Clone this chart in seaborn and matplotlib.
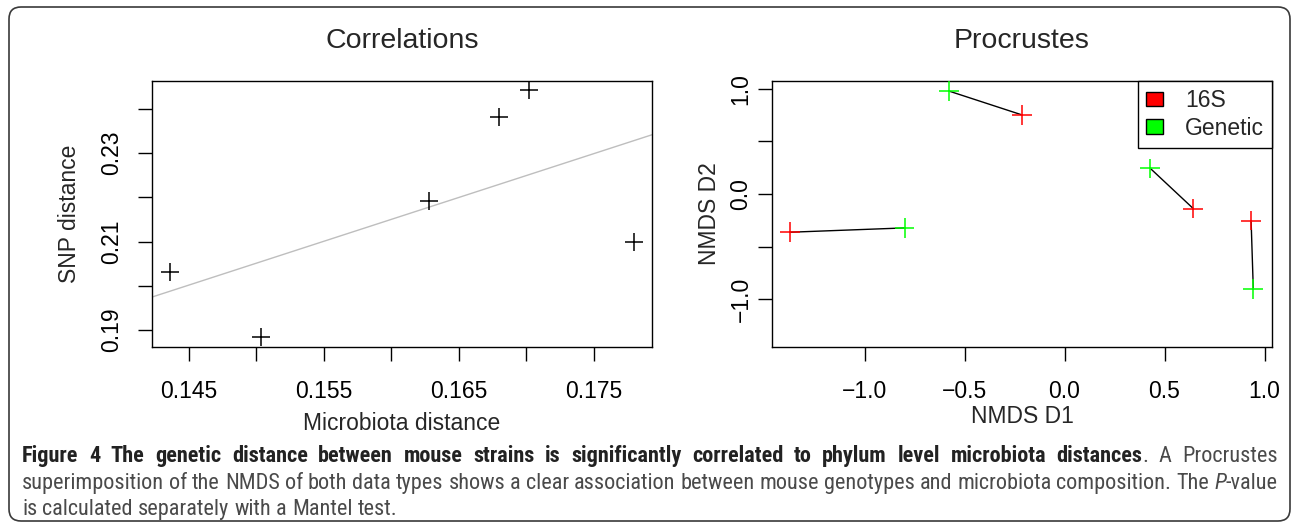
import numpy as np
import pandas as pd
import matplotlib
matplotlib.use("Agg")
import matplotlib.pyplot as plt
import seaborn as sns
from matplotlib import font_manager
from matplotlib.patches import Patch, FancyBboxPatch
from matplotlib.transforms import IdentityTransform

# Left panel: microbiota vs SNP distance
micro_dist = [0.1436, 0.1503, 0.1628, 0.1680, 0.1702, 0.1780]
snp_dist = [0.2032, 0.1883, 0.2192, 0.2382, 0.2442, 0.2099]

# Right panel: Procrustes NMDS coordinates (paired by strain)
d1_16s = [-1.371, -0.2125, 0.644, 0.933]
d2_16s = [-0.364, 0.753, -0.139, -0.253]
d1_gen = [-0.800, -0.579, 0.429, 0.944]
d2_gen = [-0.323, 0.981, 0.244, -0.905]

groups = ["16S", "Genetic"]
group_colors = ["#FF0000", "#00FF00"]

left_xticks = [0.145, 0.150, 0.155, 0.160, 0.165, 0.170, 0.175]
left_xlabels = ["0.145", "", "0.155", "", "0.165", "", "0.175"]
left_yticks = [0.19, 0.20, 0.21, 0.22, 0.23, 0.24]
left_ylabels = ["0.19", "", "0.21", "", "0.23", ""]
right_xticks = [-1.0, -0.5, 0.0, 0.5, 1.0]
right_xlabels = ["\u22121.0", "\u22120.5", "0.0", "0.5", "1.0"]
right_yticks = [-1.0, -0.5, 0.0, 0.5, 1.0]
right_ylabels = ["\u22121.0", "", "0.0", "", "1.0"]

caption_lines = [
    [[("Figure", "b")], [("4", "b")], [("The", "b")], [("genetic", "b")], [("distance", "b")],
     [("between", "b")], [("mouse", "b")], [("strains", "b")], [("is", "b")],
     [("significantly", "b")], [("correlated", "b")], [("to", "b")], [("phylum", "b")],
     [("level", "b")], [("microbiota", "b")], [("distances", "b"), (".", "n")],
     [("A", "n")], [("Procrustes", "n")]],
    [[(w, "n")] for w in "superimposition of the NMDS of both data types shows a clear association "
     "between mouse genotypes and microbiota composition. The".split()] + [[("P", "i"), ("-value", "n")]],
    [[(w, "n")] for w in "is calculated separately with a Mantel test.".split()],
]

sns.set_style("white")
plt.rcParams["font.family"] = ["Liberation Sans", "DejaVu Sans"]

W, H = 1293, 528
fig = plt.figure(figsize=(W / 100, H / 100), dpi=100)
fig.patch.set_facecolor("white")


def px_axes(x0, x1, y0, y1):
    # pixel box (top-left origin) -> figure axes
    return fig.add_axes([x0 / W, (H - y1) / H, (x1 - x0) / W, (y1 - y0) / H])


def style_axes(ax):
    for sp in ax.spines.values():
        sp.set_visible(True)
        sp.set_color("black")
        sp.set_linewidth(1.0)
    ax.tick_params(direction="out", length=10, width=1, colors="black",
                   labelsize=16.5, left=True, bottom=True)


# ---- Correlations ----
ax1 = px_axes(152, 652, 81, 347)
style_axes(ax1)
ax1.set_xlim(0.14226, 0.17930)
ax1.set_ylim(0.18615, 0.24633)
sns.regplot(x=np.array(micro_dist), y=np.array(snp_dist), ax=ax1, scatter=False, ci=None,
            truncate=False, color="#BEBEBE", line_kws={"linewidth": 1.0})
sns.scatterplot(x=micro_dist, y=snp_dist, ax=ax1, marker="+", s=150, color="black",
                linewidth=1.1, zorder=3)
ax1.set_xlim(0.14226, 0.17930)
ax1.set_ylim(0.18615, 0.24633)
ax1.set_xticks(left_xticks, labels=left_xlabels)
ax1.set_yticks(left_yticks, labels=left_ylabels, rotation=90, va="center")
ax1.tick_params(axis="x", pad=14)
ax1.tick_params(axis="y", pad=11)
ax1.set_title("Correlations", fontsize=20.5, pad=24)
ax1.set_xlabel("Microbiota distance", fontsize=16.5)
ax1.set_ylabel("SNP distance", fontsize=16.5)
ax1.xaxis.set_label_coords(0.5, -0.286)
ax1.xaxis.label.set_verticalalignment("center")
ax1.yaxis.set_label_coords(-0.164, 0.5)
ax1.yaxis.label.set_verticalalignment("center")

# ---- Procrustes ----
ax2 = px_axes(772, 1272, 81, 347)
style_axes(ax2)
for i in range(len(d1_16s)):
    ax2.plot([d1_16s[i], d1_gen[i]], [d2_16s[i], d2_gen[i]], color="black", lw=1.0, zorder=2)
proc = pd.DataFrame({
    "D1": d1_16s + d1_gen,
    "D2": d2_16s + d2_gen,
    "type": [groups[0]] * len(d1_16s) + [groups[1]] * len(d1_gen),
})
sns.scatterplot(data=proc, x="D1", y="D2", hue="type", palette=dict(zip(groups, group_colors)),
                marker="+", s=200, linewidth=1.1, legend=False, ax=ax2, zorder=3)
ax2.set_xlim(-1.4625, 1.0375)
ax2.set_ylim(-1.457, 1.076)
ax2.set_xticks(right_xticks, labels=right_xlabels)
ax2.set_yticks(right_yticks, labels=right_ylabels, rotation=90, va="center")
ax2.tick_params(axis="x", pad=14)
ax2.tick_params(axis="y", pad=4)
ax2.set_title("Procrustes", fontsize=20.5, pad=24)
ax2.set_xlabel("NMDS D1", fontsize=16.5)
ax2.set_ylabel("NMDS D2", fontsize=16.5)
ax2.xaxis.set_label_coords(0.5, -0.263)
ax2.xaxis.label.set_verticalalignment("center")
ax2.yaxis.set_label_coords(-0.126, 0.5)
ax2.yaxis.label.set_verticalalignment("center")

handles = [Patch(facecolor=c, edgecolor="black", linewidth=1.0) for c in group_colors]
leg = ax2.legend(handles, groups, loc="upper right", borderaxespad=0, fancybox=False,
                 edgecolor="black", framealpha=1, fontsize=16.5, handlelength=0.75,
                 handleheight=0.6, handletextpad=0.95, borderpad=0.35, labelspacing=0.2)
leg.get_frame().set_linewidth(1.0)

# ---- outer frame ----
frame = FancyBboxPatch((9, 7), 1281, 514, boxstyle="round,pad=0,rounding_size=12",
                       transform=IdentityTransform(), fill=False, edgecolor="#3a3a3a", lw=1.2)
fig.add_artist(frame)

# ---- caption ----
renderer = fig.canvas.get_renderer()
installed = {f.name for f in font_manager.fontManager.ttflist}
cap_family = [f for f in ["Roboto Condensed", "Open Sans Condensed", "Roboto", "Open Sans",
                          "DejaVu Sans"] if f in installed]


def props(st, size):
    return dict(fontsize=size, family=cap_family,
                fontweight="bold" if st == "b" else "normal",
                fontstyle="italic" if st == "i" else "normal",
                color="#222222" if st == "b" else "#4a4a4a")


def measure(text, st, size):
    t = fig.text(0, 0, text, **props(st, size))
    w = t.get_window_extent(renderer).width
    t.remove()
    return w


def space_w(size):
    return measure("x x", "n", size) - measure("xx", "n", size)


def natural_width(words, size):
    ws = [sum(measure(t, st, size) for t, st in w) for w in words]
    return sum(ws) + space_w(size) * (len(words) - 1), ws


x_left, x_right = 22, 1278
widest = max(natural_width(caption_lines[0], 10)[0], natural_width(caption_lines[1], 10)[0])
cap_size = 10 * (x_right - x_left) / widest

baselines = [462, 489, 515]
for li, words in enumerate(caption_lines):
    total, widths = natural_width(words, cap_size)
    gap = space_w(cap_size)
    if li < 2:
        gap = (x_right - x_left - sum(widths)) / (len(words) - 1)
    x = x_left
    for w, ww in zip(words, widths):
        xx = x
        for t, st in w:
            fig.text(xx / W, (H - baselines[li]) / H, t, va="baseline", **props(st, cap_size))
            xx += measure(t, st, cap_size)
        x += ww + gap

fig.savefig("out.png", dpi=100)
